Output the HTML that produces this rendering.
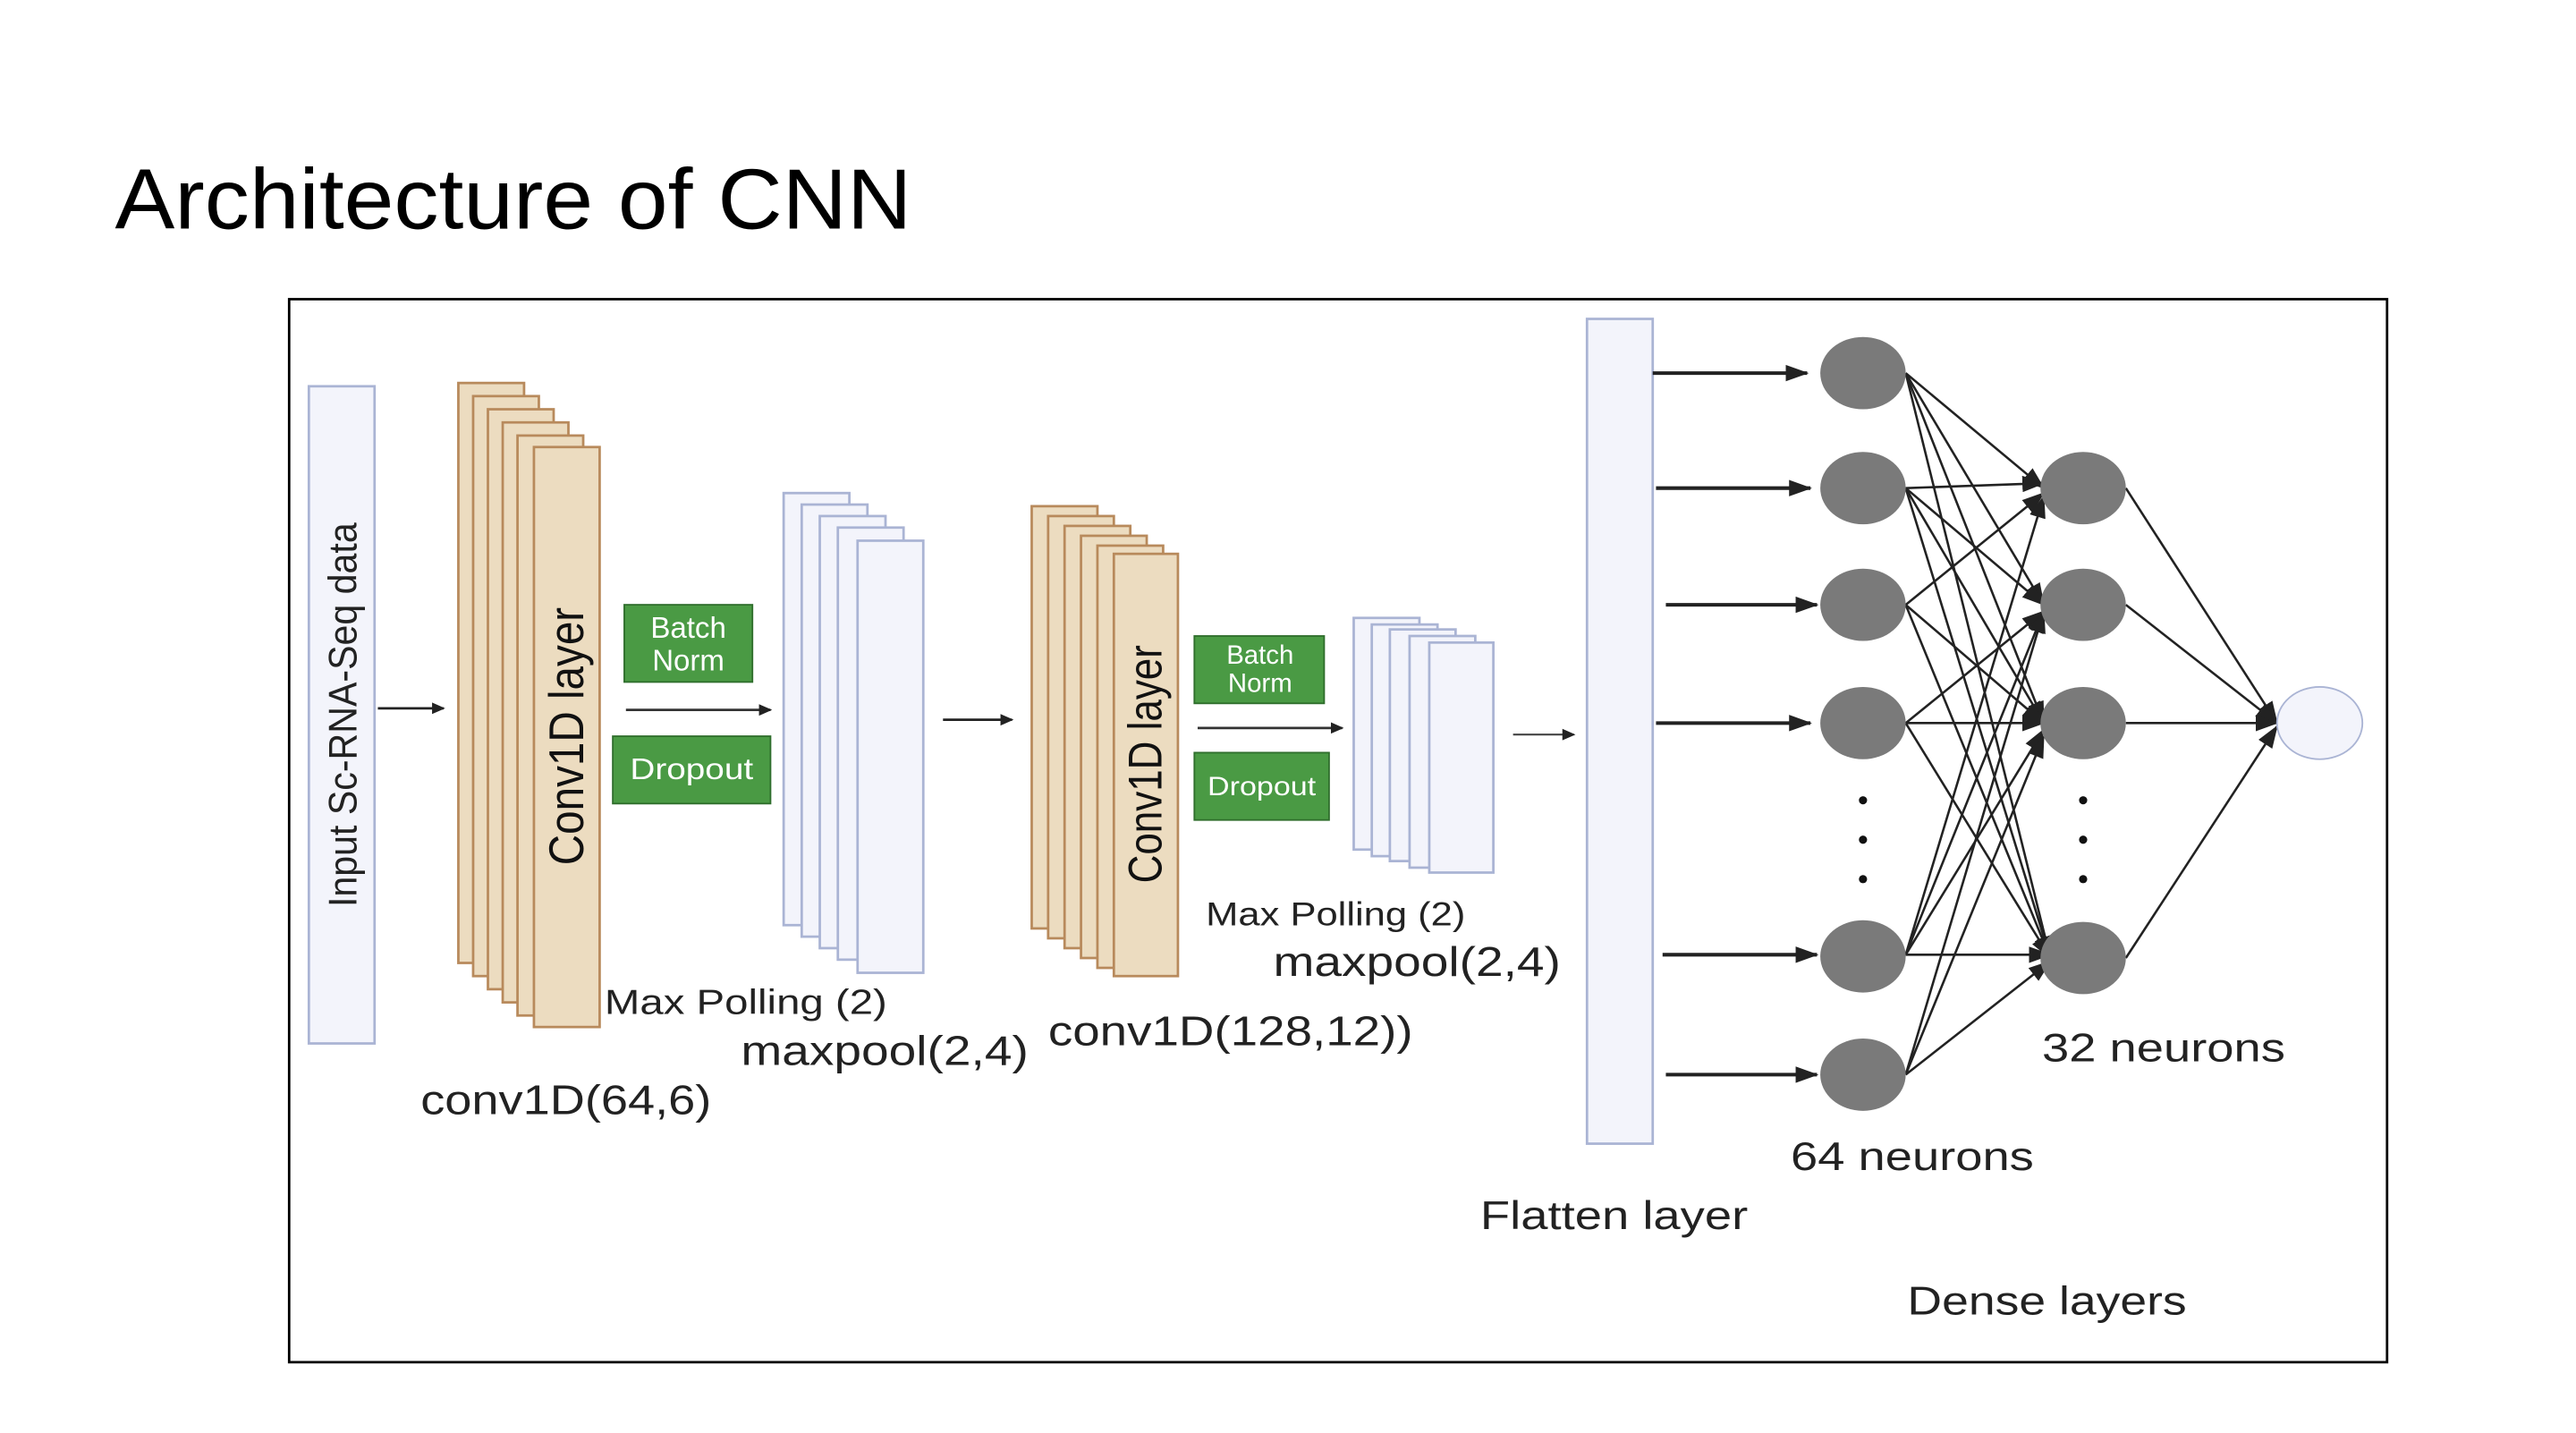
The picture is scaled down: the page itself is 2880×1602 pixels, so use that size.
<!DOCTYPE html>
<html><head><meta charset="utf-8"><style>
html,body{margin:0;padding:0;background:#fff;}
svg{display:block;}
text{font-family:"Liberation Sans",sans-serif;}
</style></head><body>
<svg width="2880" height="1602" viewBox="0 0 1568 872" xmlns="http://www.w3.org/2000/svg">
<defs>
<marker id="a" markerWidth="8" markerHeight="8" refX="7" refY="4" orient="auto" markerUnits="userSpaceOnUse"><path d="M0,0.5 L8,4 L0,7.5z" fill="#222"/></marker>
<marker id="b" markerWidth="14" markerHeight="10" refX="13" refY="5" orient="auto" markerUnits="userSpaceOnUse"><path d="M0,0 L14,5 L0,10z" fill="#222"/></marker>
</defs>
<rect width="1568" height="872" fill="#fff"/>
<text x="70" y="139" font-size="52" fill="#000" textLength="485" lengthAdjust="spacingAndGlyphs">Architecture of CNN</text>
<rect x="176" y="182" width="1277" height="647" fill="#fff" stroke="#000" stroke-width="1.5"/>

<!-- input -->
<rect x="188" y="235" width="40" height="400" fill="#f3f4fb" stroke="#aab4d4" stroke-width="1.5"/>
<text transform="translate(217,435) rotate(-90)" text-anchor="middle" font-size="24" fill="#222" textLength="234" lengthAdjust="spacingAndGlyphs">Input Sc-RNA-Seq data</text>
<line x1="230" y1="431" x2="270" y2="431" stroke="#222" stroke-width="1.5" marker-end="url(#a)"/>

<!-- conv stack 1 -->
<g fill="#ecdcc0" stroke="#b88a5c" stroke-width="1.5">
<rect x="279" y="233" width="40" height="353"/>
<rect x="288" y="241" width="40" height="353"/>
<rect x="297" y="249" width="40" height="353"/>
<rect x="306" y="257" width="40" height="353"/>
<rect x="315" y="265" width="40" height="353"/>
<rect x="325" y="272" width="40" height="353"/>
</g>
<text transform="translate(355,448) rotate(-90)" text-anchor="middle" font-size="30" fill="#111" textLength="157" lengthAdjust="spacingAndGlyphs">Conv1D layer</text>

<rect x="380" y="368" width="78" height="47" fill="#4a9a44" stroke="#2f6e2c"/>
<text x="419" y="388" text-anchor="middle" font-size="18" fill="#fff">Batch</text>
<text x="419" y="408" text-anchor="middle" font-size="18" fill="#fff">Norm</text>
<line x1="381" y1="432" x2="469" y2="432" stroke="#333" stroke-width="1.5" marker-end="url(#a)"/>
<rect x="373" y="448" width="96" height="41" fill="#4a9a44" stroke="#2f6e2c"/>
<text x="421" y="474" text-anchor="middle" font-size="18" fill="#fff" textLength="75" lengthAdjust="spacingAndGlyphs">Dropout</text>

<!-- pool 1 -->
<g fill="#f3f4fb" stroke="#aab4d4" stroke-width="1.5">
<rect x="477" y="300" width="40" height="263"/>
<rect x="488" y="307" width="40" height="263"/>
<rect x="499" y="314" width="40" height="263"/>
<rect x="510" y="321" width="40" height="263"/>
<rect x="522" y="329" width="40" height="263"/>
</g>
<line x1="574" y1="438" x2="616" y2="438" stroke="#222" stroke-width="1.5" marker-end="url(#a)"/>

<!-- conv stack 2 -->
<g fill="#ecdcc0" stroke="#b88a5c" stroke-width="1.5">
<rect x="628" y="308" width="40" height="257"/>
<rect x="638" y="314" width="40" height="257"/>
<rect x="648" y="320" width="40" height="257"/>
<rect x="658" y="326" width="40" height="257"/>
<rect x="668" y="332" width="40" height="257"/>
<rect x="678" y="337" width="39" height="257"/>
</g>
<text transform="translate(707,465) rotate(-90)" text-anchor="middle" font-size="29" fill="#111" textLength="145" lengthAdjust="spacingAndGlyphs">Conv1D layer</text>

<rect x="727" y="387" width="79" height="41" fill="#4a9a44" stroke="#2f6e2c"/>
<text x="767" y="404" text-anchor="middle" font-size="16" fill="#fff">Batch</text>
<text x="767" y="421" text-anchor="middle" font-size="16" fill="#fff">Norm</text>
<line x1="729" y1="443" x2="817" y2="443" stroke="#333" stroke-width="1.5" marker-end="url(#a)"/>
<rect x="727" y="458" width="82" height="41" fill="#4a9a44" stroke="#2f6e2c"/>
<text x="768" y="484" text-anchor="middle" font-size="16" fill="#fff" textLength="66" lengthAdjust="spacingAndGlyphs">Dropout</text>

<!-- pool 2 -->
<g fill="#f3f4fb" stroke="#aab4d4" stroke-width="1.5">
<rect x="824" y="376" width="40" height="141"/>
<rect x="835" y="380" width="40" height="141"/>
<rect x="846" y="383" width="40" height="141"/>
<rect x="858" y="387" width="40" height="141"/>
<rect x="870" y="391" width="39" height="140"/>
</g>
<line x1="921" y1="447" x2="958" y2="447" stroke="#444" stroke-width="1.2" marker-end="url(#a)"/>

<!-- flatten -->
<rect x="966" y="194" width="40" height="502" fill="#f3f4fb" stroke="#aab4d4" stroke-width="1.5"/>
<g stroke="#222" stroke-width="2.2">
<line x1="1006" y1="227" x2="1100" y2="227" marker-end="url(#b)"/>
<line x1="1008" y1="297" x2="1102" y2="297" marker-end="url(#b)"/>
<line x1="1014" y1="368" x2="1106" y2="368" marker-end="url(#b)"/>
<line x1="1008" y1="440" x2="1102" y2="440" marker-end="url(#b)"/>
<line x1="1012" y1="581" x2="1106" y2="581" marker-end="url(#b)"/>
<line x1="1014" y1="654" x2="1106" y2="654" marker-end="url(#b)"/>
</g>

<!-- dense connections -->
<g stroke="#222" stroke-width="1.4" marker-end="url(#b)">
<line x1="1160" y1="227" x2="1244" y2="297"/>
<line x1="1160" y1="227" x2="1244" y2="368"/>
<line x1="1160" y1="227" x2="1244" y2="440"/>
<line x1="1160" y1="227" x2="1248" y2="583"/>
<line x1="1160" y1="297" x2="1244" y2="294"/>
<line x1="1160" y1="297" x2="1244" y2="368"/>
<line x1="1160" y1="297" x2="1244" y2="440"/>
<line x1="1160" y1="297" x2="1248" y2="583"/>
<line x1="1160" y1="368" x2="1244" y2="300"/>
<line x1="1160" y1="368" x2="1244" y2="440"/>
<line x1="1160" y1="368" x2="1248" y2="583"/>
<line x1="1160" y1="440" x2="1244" y2="372"/>
<line x1="1160" y1="440" x2="1244" y2="440"/>
<line x1="1160" y1="440" x2="1248" y2="583"/>
<line x1="1160" y1="581" x2="1244" y2="372"/>
<line x1="1160" y1="581" x2="1244" y2="444"/>
<line x1="1160" y1="581" x2="1248" y2="581"/>
<line x1="1160" y1="581" x2="1244" y2="302"/>
<line x1="1160" y1="654" x2="1244" y2="372"/>
<line x1="1160" y1="654" x2="1244" y2="448"/>
<line x1="1160" y1="654" x2="1248" y2="585"/>
<line x1="1294" y1="297" x2="1386" y2="440"/>
<line x1="1294" y1="368" x2="1386" y2="440"/>
<line x1="1294" y1="440" x2="1386" y2="440"/>
<line x1="1294" y1="583" x2="1386" y2="442"/>
</g>

<g fill="#7a7a7a">
<ellipse cx="1134" cy="227" rx="26" ry="22"/>
<ellipse cx="1134" cy="297" rx="26" ry="22"/>
<ellipse cx="1134" cy="368" rx="26" ry="22"/>
<ellipse cx="1134" cy="440" rx="26" ry="22"/>
<ellipse cx="1134" cy="582" rx="26" ry="22"/>
<ellipse cx="1134" cy="654" rx="26" ry="22"/>
<ellipse cx="1268" cy="297" rx="26" ry="22"/>
<ellipse cx="1268" cy="368" rx="26" ry="22"/>
<ellipse cx="1268" cy="440" rx="26" ry="22"/>
<ellipse cx="1268" cy="583" rx="26" ry="22"/>
</g>
<ellipse cx="1412" cy="440" rx="26" ry="22" fill="#f3f4fb" stroke="#aab4d4" stroke-width="1"/>
<g fill="#111">
<circle cx="1134" cy="487" r="2.5"/><circle cx="1134" cy="511" r="2.5"/><circle cx="1134" cy="535" r="2.5"/>
<circle cx="1268" cy="487" r="2.5"/><circle cx="1268" cy="511" r="2.5"/><circle cx="1268" cy="535" r="2.5"/>
</g>

<!-- labels -->
<g fill="#222" lengthAdjust="spacingAndGlyphs">
<text x="368" y="617" font-size="21" textLength="172" lengthAdjust="spacingAndGlyphs">Max Polling (2)</text>
<text x="451" y="648" font-size="25" textLength="175" lengthAdjust="spacingAndGlyphs">maxpool(2,4)</text>
<text x="256" y="678" font-size="25" textLength="177" lengthAdjust="spacingAndGlyphs">conv1D(64,6)</text>
<text x="734" y="563" font-size="20" textLength="158" lengthAdjust="spacingAndGlyphs">Max Polling (2)</text>
<text x="775" y="594" font-size="25" textLength="175" lengthAdjust="spacingAndGlyphs">maxpool(2,4)</text>
<text x="638" y="636" font-size="25" textLength="222" lengthAdjust="spacingAndGlyphs">conv1D(128,12))</text>
<text x="901" y="748" font-size="24" textLength="163" lengthAdjust="spacingAndGlyphs">Flatten layer</text>
<text x="1090" y="712" font-size="24" textLength="148" lengthAdjust="spacingAndGlyphs">64 neurons</text>
<text x="1243" y="646" font-size="24" textLength="148" lengthAdjust="spacingAndGlyphs">32 neurons</text>
<text x="1161" y="800" font-size="24" textLength="170" lengthAdjust="spacingAndGlyphs">Dense layers</text>
</g>
</svg>
</body></html>
